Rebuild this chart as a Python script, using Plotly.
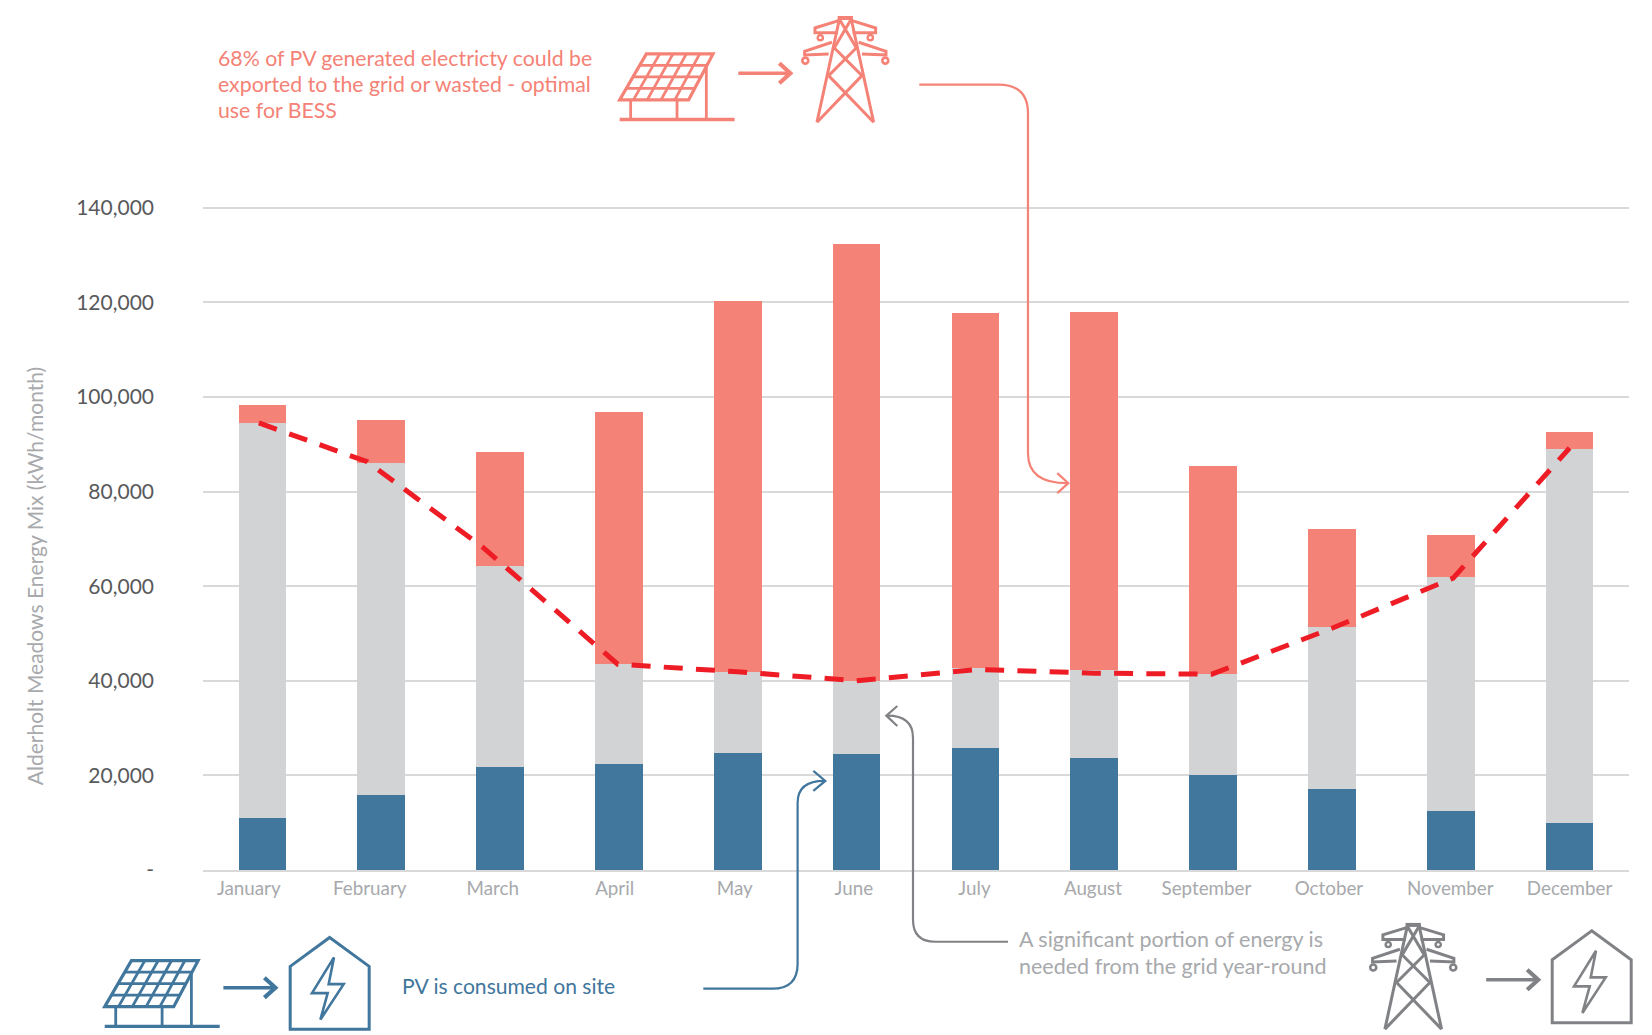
import plotly.graph_objects as go

# ---------- data ----------
months = ["January", "February", "March", "April", "May", "June", "July",
          "August", "September", "October", "November", "December"]
pv_on_site = [10900, 15800, 21800, 22500, 24700, 24500, 25800, 23700, 20100, 17100, 12500, 10000]
grid_import = [83500, 70200, 42500, 21000, 17200, 15500, 17000, 18500, 21300, 34200, 49500, 79100]
pv_export = [3800, 9100, 24000, 53300, 78400, 92300, 75000, 75800, 44000, 20800, 8900, 3400]
demand = [94500, 86300, 68300, 43500, 41900, 40000, 42400, 41600, 41400, 51100, 61700, 89200]
demand_x_offset = [-0.03, -0.117, -0.149, -0.01, 0, 0, 0.03, 0, -0.01, 0, 0.02, 0]
label_x_offset = [-0.115, -0.097, -0.062, -0.036, -0.025, -0.023, -0.008, -0.011, -0.056, -0.025, -0.004, 0]
y_tick_values = [0, 20000, 40000, 60000, 80000, 100000, 120000, 140000]
y_tick_labels = ["-", "20,000", "40,000", "60,000", "80,000", "100,000", "120,000", "140,000"]

# ---------- style ----------
CORAL, BLUE, LIGHT, RED = "#F58276", "#41769D", "#D1D3D4", "#EE1C25"
ICON_GREY, TEXT_GREY = "#808285", "#A7A9AC"
FONT = "Lato"
Y_MAX = 141000
L, R, B = 202.6, 1628.8, 870.2
T = B - 4.735 * Y_MAX / 1000
W, H = 1652, 1035

def fx(p): return (p - L) / (R - L)
def fy(p): return (B - p) / (B - T)

shapes = []

def path(pts, color, width, close=False):
    d = "M" + " L".join(f"{fx(x):.5f},{fy(y):.5f}" for x, y in pts) + (" Z" if close else "")
    shapes.append(dict(type="path", xref="paper", yref="paper", path=d,
                       line=dict(color=color, width=width)))

def curve(segs, color, width):
    parts = []
    for cmd, pts in segs:
        parts.append(cmd + " ".join(f"{fx(x):.5f},{fy(y):.5f}" for x, y in pts))
    shapes.append(dict(type="path", xref="paper", yref="paper", path=" ".join(parts),
                       line=dict(color=color, width=width)))

def circle(cx, cy, r, color, width):
    shapes.append(dict(type="circle", xref="paper", yref="paper",
                       x0=fx(cx - r), x1=fx(cx + r), y0=fy(cy + r), y1=fy(cy - r),
                       line=dict(color=color, width=width)))

def solar(x0, y0, c):
    w = 2.8
    tl, tr, br, bl = (26.7, 0), (93.4, 0), (69, 46), (0, 46)
    path([(x0 + a, y0 + b) for a, b in (tl, tr, br, bl)], c, w + 0.4, True)
    for k in (1, 2, 3):
        t = k / 4
        path([(x0 + 26.7 * (1 - t), y0 + 46 * t), (x0 + 93.4 - 24.4 * t, y0 + 46 * t)], c, w)
    for k in (1, 2, 3, 4):
        t = k / 5
        path([(x0 + 26.7 + 66.7 * t, y0), (x0 + 69 * t, y0 + 46)], c, w)
    for lx, top in ((11, 46), (57.4, 46), (86.7, 12)):
        path([(x0 + lx, y0 + top), (x0 + lx, y0 + 65.7)], c, w)
    path([(x0, y0 + 65.7), (x0 + 115, y0 + 65.7)], c, 3.4)

def tower(cx, top, c):
    s = 1 / 3
    w = 3
    def P(a, b): return (cx + a * s, top + b * s)
    path([P(-17, 2), P(-85, 315)], c, w)
    path([P(17, 2), P(85, 315)], c, w)
    path([P(-23, 2), P(23, 2)], c, w + 1)
    for sg in (-1, 1):
        path([P(sg * 20, 10), P(sg * 91, 32), P(sg * 91, 46), P(sg * 22, 46)], c, w)
        path([P(sg * 40, 75), P(sg * 122, 102), P(sg * 122, 113), P(sg * 50, 110)], c, w)
        circle(cx + sg * 75 * s, top + 55 * s + 2, 2.6, c, 2.4)
        circle(cx + sg * 120 * s, top + 130 * s, 3, c, 2.6)
        path([P(sg * 18, 5), P(sg * -35, 95)], c, w)
        path([P(sg * 35, 90), P(sg * -50, 175)], c, w)
        path([P(sg * 50, 175), P(sg * -85, 315)], c, w)

def house(ax, ay, c, bolt):
    path([(ax, ay), (ax + 39.5, ay + 29), (ax + 39.5, ay + 92), (ax - 39.5, ay + 92),
          (ax - 39.5, ay + 29)], c, 3, True)
    path([(ax + a, ay + b) for a, b in bolt], c, 2.6, True)

def arrow(x0, x1, y, c):
    path([(x0, y), (x1 - 2, y)], c, 3.6)
    path([(x1 - 11, y - 10), (x1, y), (x1 - 11, y + 10)], c, 4.2)

BOLT = [(4.3, 20), (-17.7, 55.7), (-2, 55.7), (-9.3, 82.3), (14, 46.7), (-1, 46.7)]

# top (coral) group
solar(619.3, 53.3, CORAL)
arrow(738, 790, 72.7, CORAL)
tower(845, 16.7, CORAL)
curve([("M", [(919, 84)]), ("L", [(998, 84)]),
       ("Q", [(1027.7, 84), (1027.7, 113)]), ("L", [(1027.7, 453)]),
       ("Q", [(1027.7, 483), (1067, 483)])], CORAL, 2.2)
path([(1057, 473), (1068, 483), (1057, 493)], CORAL, 2.2)

# bottom-left (blue) group
solar(104.3, 961, BLUE)
arrow(223, 275, 988, BLUE)
house(329.3, 937.7, BLUE, BOLT)
curve([("M", [(703, 989)]), ("L", [(772, 989)]),
       ("Q", [(797.3, 989), (797.3, 964)]), ("L", [(797.3, 803)]),
       ("Q", [(797.3, 781), (824, 781)])], BLUE, 2.2)
path([(813, 771), (825, 781), (813, 791)], BLUE, 2.2)

# bottom-right (grey) group
tower(1413, 924.5, ICON_GREY)
arrow(1486, 1538, 980, ICON_GREY)
house(1591.5, 931, ICON_GREY, BOLT)
curve([("M", [(1007.7, 942)]), ("L", [(935, 942)]),
       ("Q", [(912.7, 942), (912.7, 920)]), ("L", [(912.7, 738)]),
       ("Q", [(912.7, 715.7), (887, 715.7)])], ICON_GREY, 2.2)
path([(897, 706), (886, 715.7), (897, 726)], ICON_GREY, 2.2)

# ---------- traces ----------
idx = list(range(len(months)))
fig = go.Figure()
for name, vals, col in (("PV consumed on site", pv_on_site, BLUE),
                        ("Grid import", grid_import, LIGHT),
                        ("PV exported or wasted", pv_export, CORAL)):
    fig.add_trace(go.Bar(x=idx, y=vals, name=name, marker=dict(color=col, line_width=0), width=0.4))
fig.add_trace(go.Scatter(x=[i + o for i, o in zip(idx, demand_x_offset)], y=demand, mode="lines",
                         name="Demand", line=dict(color=RED, width=5, dash="19px,13.24px")))

def note(x, y, text, color, size=21.3, anchor="left", **kw):
    return dict(xref="paper", yref="paper", x=fx(x), y=fy(y), text=text, showarrow=False,
                xanchor=anchor, yanchor="middle", align="left",
                font=dict(family=FONT, size=size, color=color), **kw)

annotations = [
    note(216, 57, "68% of PV generated electricty could be", CORAL),
    note(216, 83.4, "exported to the grid or wasted - optimal", CORAL),
    note(216, 109.8, "use for BESS", CORAL),
    note(400, 985.5, "PV is consumed on site", BLUE, size=21.1),
    note(1017, 939, "A significant portion of energy is", TEXT_GREY, size=21.5),
    note(1017, 966, "needed from the grid year-round", TEXT_GREY, size=21.5),
    note(33.7, 576, "Alderholt Meadows Energy Mix (kWh/month)", TEXT_GREY, size=21, anchor="center", textangle=-90),
]

fig.update_layout(
    width=W, height=H, barmode="stack", showlegend=False, bargap=0.6,
    paper_bgcolor="white", plot_bgcolor="white",
    margin=dict(l=L, r=W - R, t=T, b=H - B, pad=0, autoexpand=False),
    font=dict(family=FONT),
    xaxis=dict(range=[-0.5, 11.5], tickmode="array",
               tickvals=[i + o for i, o in zip(idx, label_x_offset)], ticktext=months,
               tickfont=dict(family=FONT, size=18.8, color=TEXT_GREY),
               showgrid=False, zeroline=False, showline=True, linecolor="#D9D9D9", linewidth=2,
               ticks="", ticklabelstandoff=0),
    yaxis=dict(range=[0, Y_MAX], tickmode="array", tickvals=y_tick_values, ticktext=y_tick_labels,
               tickfont=dict(family=FONT, size=21, color="#58595B"),
               showgrid=True, gridcolor="#D9D9D9", gridwidth=1.6, zeroline=False, showline=False,
               ticks="", ticklabelstandoff=48),
    shapes=shapes, annotations=annotations,
)

fig.write_html("out.html", post_script="document.body.style.margin='0';document.body.style.overflow='hidden';",
               config=dict(displayModeBar=False))
